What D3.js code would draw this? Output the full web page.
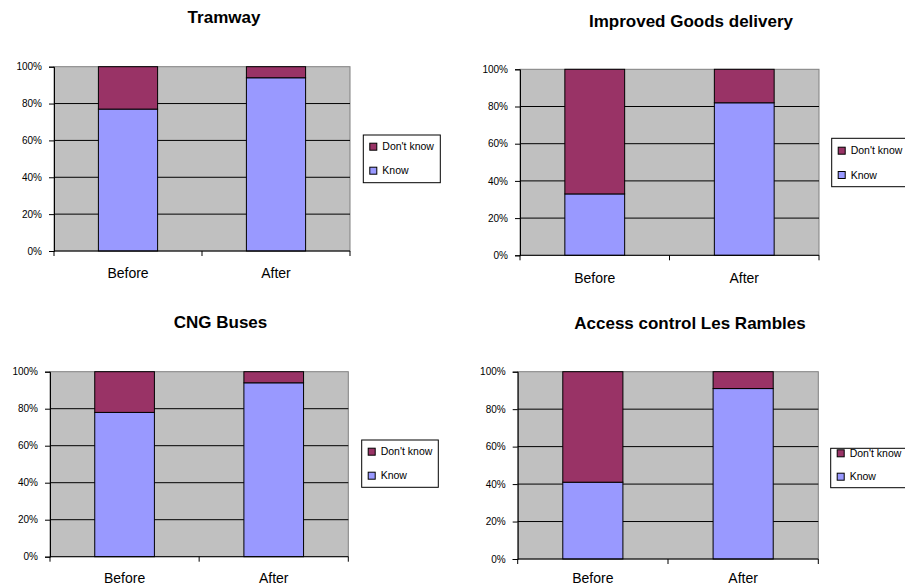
<!DOCTYPE html>
<html><head><meta charset="utf-8">
<script src="https://cdn.jsdelivr.net/npm/d3@7/dist/d3.min.js"></script>
<style>html,body{margin:0;padding:0;background:#fff;overflow:hidden}</style>
</head><body>
<svg id="c" width="905" height="586"></svg>
<script>
// ---- data ----
const titles = ["Tramway", "Improved Goods delivery", "CNG Buses", "Access control Les Rambles"];
const categories = ["Before", "After"];
const seriesNames = ["Don't know", "Know"];
const know = [[77, 94], [33, 82], [78, 94], [41, 91]];
const dontKnow = [[23, 6], [67, 18], [22, 6], [59, 9]];
const yTicks = [0, 20, 40, 60, 80, 100];

// ---- layout (positions only) ----
const layout = [
  {px0: 54, px1: 350, py0: 66.7, py1: 251, lx: 363.3, ly: 135, lw: 77, lh: 47.7, t1: 146.7, t2: 170.7, tx: 224, ty: 23.3},
  {px0: 520, px1: 819, py0: 69.3, py1: 255.3, lx: 831.7, ly: 138.3, lw: 85, lh: 48.4, t1: 150.7, t2: 175, tx: 691, ty: 26.5},
  {px0: 50, px1: 348.3, py0: 371.7, py1: 556.7, lx: 361.7, ly: 440, lw: 76.6, lh: 47.3, t1: 451.7, t2: 475.7, tx: 220.5, ty: 328.3},
  {px0: 517.7, px1: 818.3, py0: 371.7, py1: 559, lx: 830.7, ly: 448.3, lw: 85, lh: 39.4, t1: 453.3, t2: 476.7, tx: 690, ty: 329}
];
const colors = {"Know": "#9999FF", "Don't know": "#993366"};
const font = "'Liberation Sans', Arial, sans-serif";

const svg = d3.select("#c");

titles.forEach((title, i) => {
  const L = layout[i];
  const g = svg.append("g");
  const x = d3.scaleBand().domain(categories).range([L.px0, L.px1]).paddingInner(0.6).paddingOuter(0.3);
  const xb = d3.scaleBand().domain(categories).range([L.px0, L.px1]);
  const y = d3.scaleLinear().domain([0, 100]).range([L.py1, L.py0]);

  // plot background
  g.append("rect").attr("x", L.px0).attr("y", L.py0).attr("width", L.px1 - L.px0).attr("height", L.py1 - L.py0)
    .attr("fill", "#C0C0C0").attr("stroke", "#808080").attr("stroke-width", 1);

  // gridlines
  g.selectAll(".grid").data(yTicks.filter(v => v > 0 && v < 100)).enter().append("line")
    .attr("x1", L.px0).attr("x2", L.px1).attr("y1", d => y(d)).attr("y2", d => y(d))
    .attr("stroke", "#000").attr("stroke-width", 1);

  // stacked bars
  const rows = categories.map((c, j) => ({cat: c, "Know": know[i][j], "Don't know": dontKnow[i][j]}));
  const stack = d3.stack().keys(["Know", "Don't know"])(rows);
  stack.forEach(s => {
    g.selectAll(null).data(s).enter().append("rect")
      .attr("x", d => x(d.data.cat)).attr("width", x.bandwidth())
      .attr("y", d => y(d[1])).attr("height", d => y(d[0]) - y(d[1]))
      .attr("fill", colors[s.key]).attr("stroke", "#000").attr("stroke-width", 1);
  });

  // y axis
  const ya = d3.axisLeft(y).tickValues(yTicks).tickFormat(d => d + "%").tickSize(5).tickPadding(7);
  const yg = g.append("g").attr("transform", `translate(${L.px0},0)`).call(ya);
  yg.select(".domain").attr("stroke", "#000");
  yg.selectAll("text").attr("font-family", font).attr("font-size", "10px").attr("fill", "#000");

  // x axis (ticks at category boundaries)
  const boundaries = [L.px0, ...categories.map(c => xb(c) + xb.bandwidth())];
  g.append("line").attr("x1", L.px0).attr("x2", L.px1).attr("y1", L.py1).attr("y2", L.py1).attr("stroke", "#000");
  g.selectAll(".xt").data(boundaries).enter().append("line")
    .attr("x1", d => d).attr("x2", d => d).attr("y1", L.py1).attr("y2", L.py1 + 5).attr("stroke", "#000");
  g.selectAll(".xl").data(categories).enter().append("text")
    .attr("x", d => x(d) + x.bandwidth() / 2).attr("y", Math.min(L.py1 + 27.3, 583))
    .attr("text-anchor", "middle").attr("font-family", font).attr("font-size", "14px").text(d => d);

  // title
  g.append("text").attr("x", L.tx).attr("y", L.ty).attr("text-anchor", "middle")
    .attr("font-family", font).attr("font-weight", "bold").attr("font-size", "17px").text(title);

  // legend
  g.append("rect").attr("x", L.lx).attr("y", L.ly).attr("width", L.lw).attr("height", L.lh)
    .attr("fill", "#fff").attr("stroke", "#000").attr("stroke-width", 1);
  const ty = [L.t1, L.t2];
  seriesNames.forEach((name, k) => {
    g.append("rect").attr("x", L.lx + 6.5).attr("y", ty[k] - 3.5).attr("width", 7).attr("height", 7)
      .attr("fill", colors[name]).attr("stroke", "#000").attr("stroke-width", 1);
    g.append("text").attr("x", L.lx + 19).attr("y", ty[k]).attr("dy", "0.35em")
      .attr("font-family", font).attr("font-size", "10.5px").text(name);
  });
});
</script>
</body></html>
